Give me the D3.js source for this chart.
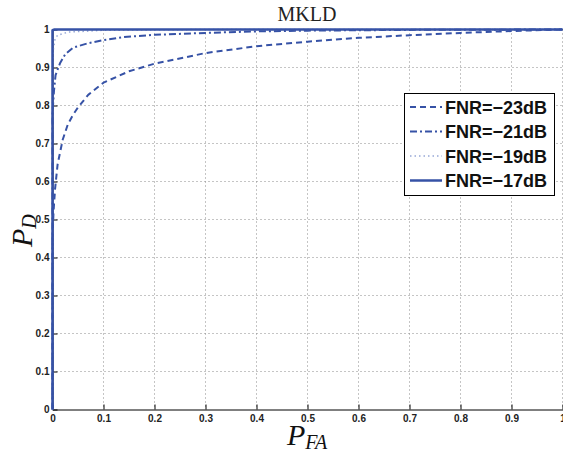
<!doctype html>
<html>
<head>
<style>
  body { margin: 0; background: #fff; }
  .grid line { stroke: #8a8a8a; stroke-dasharray: 1,3; stroke-width: 1; }
</style>
<script src="https://d3js.org/d3.v7.min.js"></script>
</head>
<body>
<svg width="563" height="452"></svg>
<script>
var xTicks = [0, 0.1, 0.2, 0.3, 0.4, 0.5, 0.6, 0.7, 0.8, 0.9, 1];
var yTicks = [0, 0.1, 0.2, 0.3, 0.4, 0.5, 0.6, 0.7, 0.8, 0.9, 1];
var seriesNames = ["FNR=\u221223dB", "FNR=\u221221dB", "FNR=\u221219dB", "FNR=\u221217dB"];

// [P_FA, P_D]
var fnr23 = [[0, 0], [0, 0.45], [0.002, 0.52], [0.005, 0.58], [0.01, 0.645], [0.02, 0.71], [0.03, 0.75],
             [0.04, 0.775], [0.05, 0.795], [0.07, 0.828], [0.1, 0.86], [0.15, 0.89], [0.2, 0.91],
             [0.3, 0.938], [0.4, 0.956], [0.5, 0.968], [0.6, 0.978], [0.7, 0.985], [0.8, 0.991],
             [0.9, 0.996], [1, 1]];
var fnr21 = [[0, 0], [0, 0.78], [0.003, 0.84], [0.006, 0.88], [0.015, 0.912], [0.025, 0.935],
             [0.04, 0.952], [0.07, 0.964], [0.1, 0.972], [0.14, 0.98], [0.2, 0.986], [0.3, 0.991],
             [0.4, 0.995], [0.5, 0.997], [0.7, 0.999], [1, 1]];
var fnr19 = [[0, 0], [0, 0.9], [0.002, 0.95], [0.005, 0.975], [0.01, 0.985], [0.03, 0.993],
             [0.1, 0.998], [0.3, 1], [1, 1]];
var fnr17 = [[0, 0], [0, 0.998], [0.004, 1], [1, 1]];
var seriesData = [fnr23, fnr21, fnr19, fnr17];

var styles = [
  { color: "#3652a6", width: 2, dash: "6,4" },
  { color: "#3652a6", width: 2, dash: "7,3,2,3" },
  { color: "#97a8d6", width: 1.5, dash: "1.5,3" },
  { color: "#3652a6", width: 2.5, dash: null }
];

var svg = d3.select("svg");
var pLeft = 52.5, pRight = 562.5, pTop = 29.5, pBottom = 409.5;

var x = d3.scaleLinear().domain([0, 1]).range([pLeft, pRight]);
var y = d3.scaleLinear().domain([0, 1]).range([pBottom, pTop]);

// grid
svg.append("g").attr("class", "grid")
  .selectAll("line").data(xTicks.slice(1)).enter().append("line")
  .attr("x1", function(d) { return x(d); }).attr("x2", function(d) { return x(d); })
  .attr("y1", pTop).attr("y2", pBottom);
svg.append("g").attr("class", "grid")
  .selectAll("line").data(yTicks.slice(1)).enter().append("line")
  .attr("x1", pLeft).attr("x2", pRight)
  .attr("y1", function(d) { return y(d); }).attr("y2", function(d) { return y(d); });

// axes, ticks inside
var fmt = function(d) { return d3.format("")(d); };
var xAxis = svg.append("g").attr("transform", "translate(0," + pBottom + ")")
  .call(d3.axisBottom(x).tickValues(xTicks).tickSizeInner(-5).tickSizeOuter(0).tickPadding(4).tickFormat(fmt));
var yAxis = svg.append("g").attr("transform", "translate(" + pLeft + ",0)")
  .call(d3.axisLeft(y).tickValues(yTicks).tickSizeInner(-5).tickSizeOuter(0).tickPadding(3).tickFormat(fmt));
[xAxis, yAxis].forEach(function(a) {
  a.attr("font-family", "Liberation Sans, Arial, sans-serif").attr("font-size", 10).attr("font-weight", "bold");
  a.select(".domain").attr("stroke", "#000");
  a.selectAll(".tick line").attr("stroke", "#000");
  a.selectAll(".tick text").attr("fill", "#222");
});
xAxis.selectAll(".tick text").attr("y", 5).attr("dy", "0.71em");
svg.append("line").attr("x1", pLeft).attr("x2", pRight).attr("y1", pTop).attr("y2", pTop).attr("stroke", "#000");

// curves
var line = d3.line().x(function(d) { return x(d[0]); }).y(function(d) { return y(d[1]); });
seriesData.forEach(function(s, i) {
  var st = styles[i];
  svg.append("path").datum(s)
    .attr("d", line)
    .attr("fill", "none")
    .attr("stroke", st.color)
    .attr("stroke-width", st.width)
    .attr("stroke-dasharray", st.dash)
    .attr("stroke-linejoin", "round");
});

// title & labels
svg.append("text").attr("x", 307).attr("y", 21).attr("text-anchor", "middle")
  .attr("font-family", "Liberation Serif, Times New Roman, serif").attr("font-size", 20).attr("fill", "#222")
  .text("MKLD");

var xl = svg.append("text").attr("x", 287).attr("y", 445)
  .attr("font-family", "Liberation Serif, Times New Roman, serif").attr("font-style", "italic")
  .attr("font-size", 30).attr("fill", "#111");
xl.append("tspan").text("P");
xl.append("tspan").attr("font-size", 20).attr("dy", 4).text("FA");

var yl = svg.append("text").attr("transform", "translate(32,247) rotate(-90)")
  .attr("font-family", "Liberation Serif, Times New Roman, serif").attr("font-style", "italic")
  .attr("font-size", 30).attr("fill", "#111");
yl.append("tspan").text("P");
yl.append("tspan").attr("font-size", 20).attr("dy", 4).text("D");

// legend
var lg = svg.append("g");
lg.append("rect").attr("x", 404.5).attr("y", 93.5).attr("width", 150).attr("height", 102)
  .attr("fill", "#fff").attr("stroke", "#000").attr("stroke-width", 1);
seriesNames.forEach(function(name, i) {
  var yy = 107 + i * 24.5;
  var st = styles[i];
  lg.append("line").attr("x1", 410).attr("x2", 442).attr("y1", yy).attr("y2", yy)
    .attr("stroke", st.color).attr("stroke-width", st.width).attr("stroke-dasharray", st.dash);
  lg.append("text").attr("x", 445).attr("y", yy + 6.5)
    .attr("font-family", "Liberation Sans, Arial, sans-serif").attr("font-weight", "bold")
    .attr("font-size", 18).attr("fill", "#111").text(name);
});
</script>
</body>
</html>
